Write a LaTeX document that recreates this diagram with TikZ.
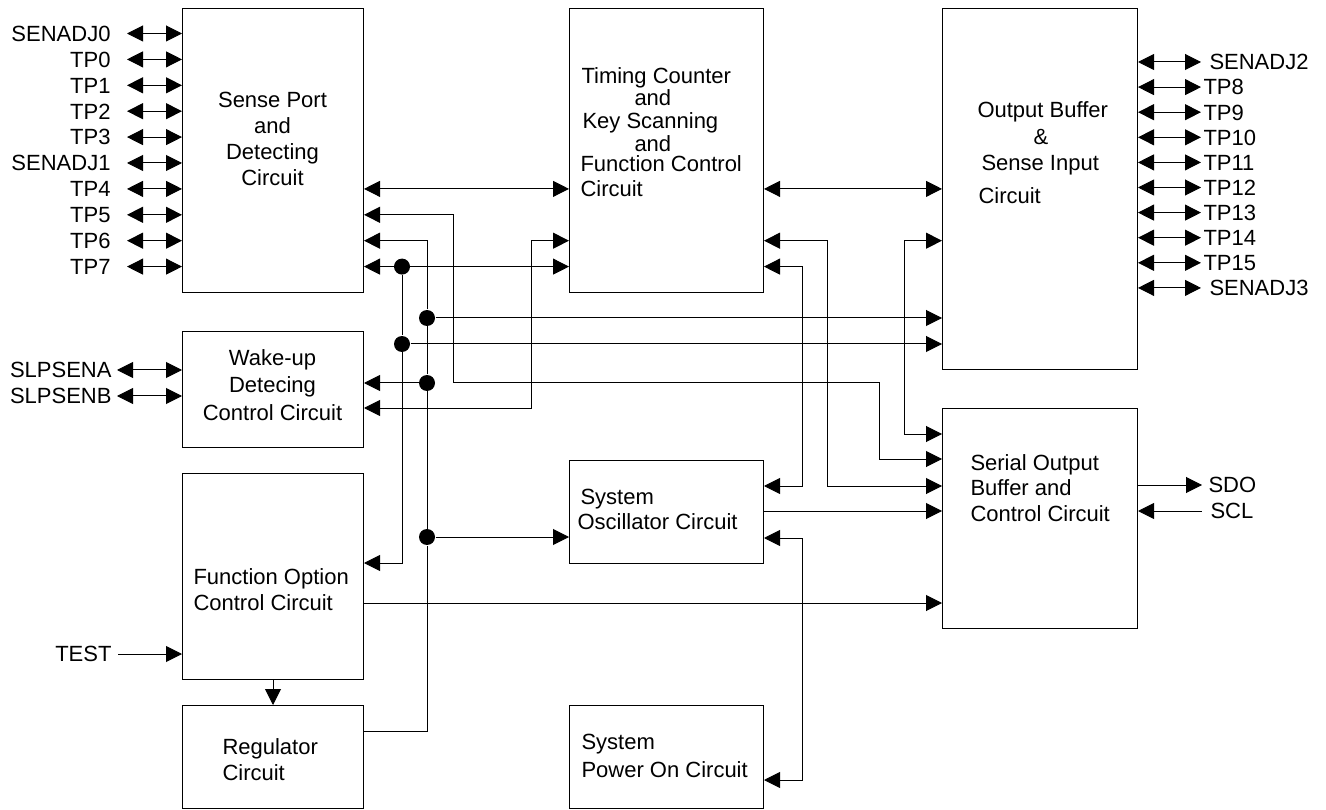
\documentclass[tikz,border=0pt]{standalone}
\usepackage{fontspec}
\setmainfont{Liberation Sans}
\usetikzlibrary{arrows.meta}
\tikzset{
  >={Triangle[length=16pt,width=16pt]},
  blk/.style={draw, anchor=north west, inner sep=0pt},
  txt/.style={inner sep=0pt, text height=15.7pt, text depth=0pt, anchor=west},
  pin/.style={inner sep=0pt, text height=15.7pt, text depth=0pt},
  dot/.style={circle, fill, inner sep=0pt, minimum size=16pt},
}
\begin{document}
\begin{tikzpicture}[x=1pt, y=-1pt, line width=1pt, font=\fontsize{22}{26}\selectfont]
  \useasboundingbox (0,0) rectangle (1326,810);
  % blocks
  \node[blk, minimum width=181pt, minimum height=284pt] (SP) at (182,8) {};
  \node[blk, minimum width=194pt, minimum height=284pt] (TC) at (569,8) {};
  \node[blk, minimum width=195pt, minimum height=361pt] (OB) at (942,8) {};
  \node[blk, minimum width=181pt, minimum height=116pt] (WU) at (182,331) {};
  \node[blk, minimum width=181pt, minimum height=206pt] (FO) at (182,473) {};
  \node[blk, minimum width=181pt, minimum height=103pt] (RG) at (182,705) {};
  \node[blk, minimum width=194pt, minimum height=103pt] (SO) at (569,460) {};
  \node[blk, minimum width=194pt, minimum height=103pt] (SPO) at (569,705) {};
  \node[blk, minimum width=195pt, minimum height=220pt] (SOB) at (942,408) {};
  % block texts
  \foreach \t/\y [count=\i] in {Sense Port/100, and/126, Detecting/152, Circuit/178}
    \node[txt, anchor=center] (spt\i) at (272.5,\y) {\t};
  \foreach \t/\x/\y [count=\i] in {Timing Counter/581/76, and/634/98, Key Scanning/582/121,
      and/634/144, Function Control/580/164, Circuit/580/189}
    \node[txt] (tct\i) at (\x,\y) {\t};
  \foreach \t/\x/\y [count=\i] in {Output Buffer/977/110, \&/1033/137, Sense Input/981/163, Circuit/978/196}
    \node[txt] (obt\i) at (\x,\y) {\t};
  \foreach \t/\y [count=\i] in {Wake-up/358, Detecing/385, Control Circuit/413}
    \node[txt, anchor=center] (wut\i) at (272.5,\y) {\t};
  \foreach \t/\x/\y [count=\i] in {Function Option/193/577, Control Circuit/193/603,
      Regulator/222/747, Circuit/222/773}
    \node[txt] (fot\i) at (\x,\y) {\t};
  \foreach \t/\x/\y [count=\i] in {System/580/497, Oscillator Circuit/577/522,
      System/581/742, Power On Circuit/581/770}
    \node[txt] (sot\i) at (\x,\y) {\t};
  \foreach \t/\y [count=\i] in {Serial Output/463, Buffer and/488, Control Circuit/514}
    \node[txt] (sbt\i) at (970,\y) {\t};
  % pins
  \foreach \p [count=\i from 0] in {SENADJ0,TP0,TP1,TP2,TP3,SENADJ1,TP4,TP5,TP6,TP7} {
    \node[pin, anchor=east] (l\i) at (111,33.5+25.9*\i) {\p};
    \draw[<->] ([xshift=16pt]l\i.east) -- (SP.west |- l\i.east);
  }
  \foreach \p/\dx [count=\i from 0] in {SENADJ2/9,TP8/3,TP9/3,TP10/3,TP11/3,TP12/3,TP13/3,TP14/3,TP15/3,SENADJ3/9} {
    \node[pin, anchor=west] (r\i) at (1200+\dx,62+25.1*\i) {\p};
    \draw[<->] (OB.east |- r\i.west) -- ++(63,0);
  }
  \node[pin, anchor=east] (slpa) at (112,370) {SLPSENA};
  \node[pin, anchor=east] (slpb) at (112,396) {SLPSENB};
  \node[pin, anchor=east] (test) at (112,654) {TEST};
  \node[pin, anchor=west] (sdo) at (1208,485) {SDO};
  \node[pin, anchor=west] (scl) at (1210,511) {SCL};
  \draw[<->] ([xshift=5pt]slpa.east) -- (WU.west |- slpa.east);
  \draw[<->] ([xshift=5pt]slpb.east) -- (WU.west |- slpb.east);
  \draw[->] ([xshift=6pt]test.east) -- (FO.west |- test.east);
  \draw[->] (SOB.east |- sdo.west) -- ([xshift=-6pt]sdo.west);
  \draw[<-] (SOB.east |- scl.west) -- ([xshift=-8pt]scl.west);
  % junctions
  \node[dot] (dA) at (402,266.6) {};
  \node[dot] (dB) at (402,344) {};
  \node[dot] (dC) at (427,318) {};
  \node[dot] (dD) at (427,383) {};
  \node[dot] (dE) at (427,537) {};
  \coordinate (j1) at (453,383);
  \coordinate (j2) at (879,459);
  \coordinate (j3) at (427,731);
  \coordinate (j4) at (402,563);
  \coordinate (j5) at (531,408);
  \coordinate (j6) at (827,486);
  \coordinate (j7) at (802,486);
  \coordinate (j8) at (802,538);
  \coordinate (j9) at (802,780);
  \coordinate (j10) at (904,434);
  \coordinate (j11) at (0,603);
  % connections
  \draw[<->] (SP.east |- l6) -- (TC.west |- l6);
  \draw[<->] (TC.east |- l6) -- (OB.west |- l6);
  \draw[<->] (SP.east |- l7) -| (j1) -| (j2) -- (SOB.west |- j2);
  \draw[->] (RG.east |- j3) -| (dE) -- (dD) -- (dC) -- (427,0 |- l8) -- (SP.east |- l8);
  \draw[->] (dC) -- (OB.west |- dC);
  \draw[->] (dD) -- (WU.east |- dD);
  \draw[->] (dE) -- (SO.west |- dE);
  \draw[<->] (SP.east |- l9) -- (TC.west |- l9);
  \draw[->] (dA) -- (dB) -- (j4) -- (FO.east |- j4);
  \draw[->] (dB) -- (OB.west |- dB);
  \draw[<->] (TC.west |- l8) -| (j5) -- (WU.east |- j5);
  \draw[<->] (TC.east |- l8) -| (j6) -- (SOB.west |- j6);
  \draw[<->] (TC.east |- l9) -| (j7) -- (SO.east |- j7);
  \draw[<->] (SO.east |- j8) -| (j9) -- (SPO.east |- j9);
  \draw[<->] (OB.west |- l8) -| (j10) -- (SOB.west |- j10);
  \draw[->] (SO.east |- scl) -- (SOB.west |- scl);
  \draw[->] (FO.east |- j11) -- (SOB.west |- j11);
  \draw[->] (FO) -- (RG);
\end{tikzpicture}
\end{document}
